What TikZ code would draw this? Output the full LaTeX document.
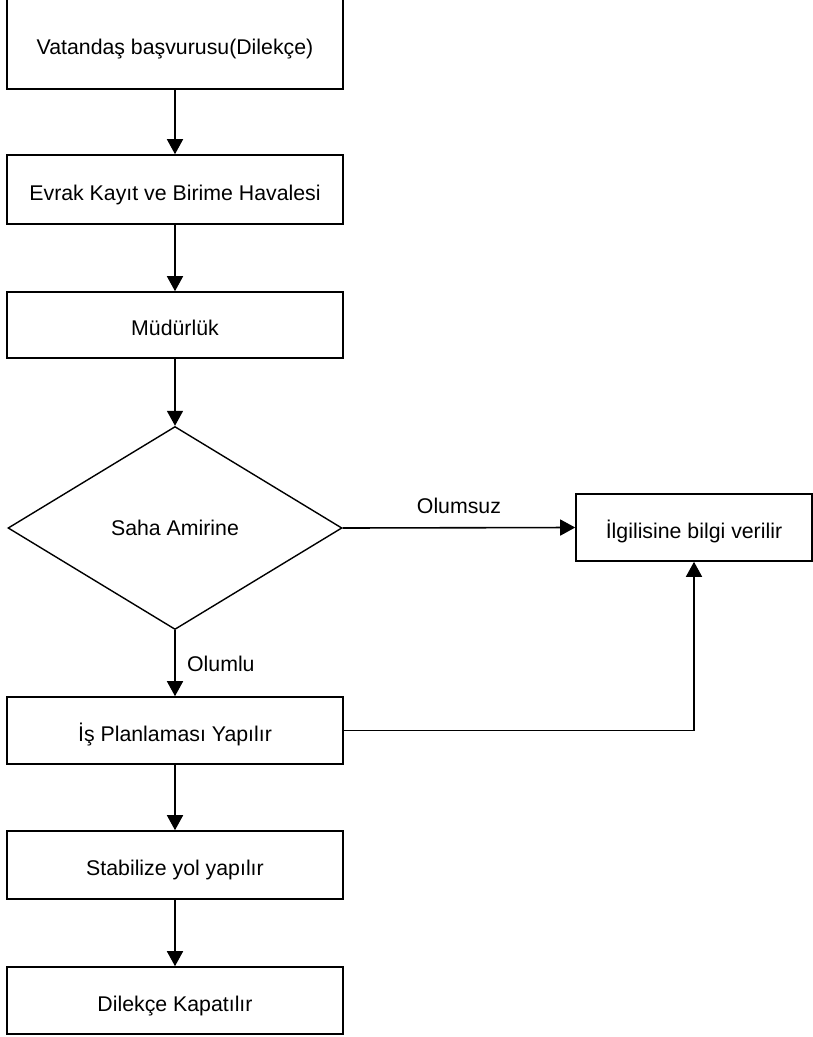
\documentclass[tikz,border=0pt]{standalone}
\usepackage{fontspec}
\setmainfont{Liberation Sans}
\usepackage{tikz}
\usetikzlibrary{arrows.meta,positioning,shapes.geometric}
\tikzset{
  stepbox/.style={draw,line width=1.6pt,rectangle,inner sep=0pt,
    text height=21pt,text depth=0pt,
    minimum width=336pt,minimum height=67pt},
  decision/.style={draw,line width=1.4pt,diamond,inner sep=0pt,
    minimum width=334pt,minimum height=203pt},
  every node/.style={font=\fontsize{21.3}{25}\selectfont}
}
\tikzstyle{arrow} = [line width=1.6pt,-{Triangle[width=16pt,length=15pt]}]

\begin{document}
\begin{tikzpicture}[x=1pt,y=-1pt,line cap=butt,line join=miter]
  % --- Window ---
  \useasboundingbox (0,0) rectangle (813,1037);

  % --- Main column ---
  \node[stepbox,minimum height=91pt] (basvuru) at (175,43.5) {Vatandaş başvurusu(Dilekçe)};
  \node[stepbox,minimum height=69pt] (kayit) at (175,189.5) {Evrak Kayıt ve Birime Havalesi};
  \node[stepbox,minimum height=66pt] (mudur) at (175,325) {Müdürlük};
  \node[decision] (saha) at (175,528) {Saha Amirine};
  \node[stepbox] (plan) at (175,730.5) {İş Planlaması Yapılır};
  \node[stepbox,minimum height=68pt] (yol) at (175,865) {Stabilize yol yapılır};
  \node[stepbox] (kapat) at (175,1000.5) {Dilekçe Kapatılır};

  % --- Side box ---
  \node[stepbox,minimum width=236pt] (bilgi) at (694,527.5) {İlgilisine bilgi verilir};

  % --- Connectors ---
  \draw[arrow] (basvuru) -- (kayit);
  \draw[arrow] (kayit) -- (mudur);
  \draw[arrow] (mudur) -- (saha.north);
  \draw[arrow] (saha.south) -- node[anchor=west,xshift=8pt,yshift=-1pt] {Olumlu} (plan);
  \draw[arrow] (saha.east) -- node[anchor=south,yshift=10pt] {Olumsuz} (bilgi.west);
  \draw[arrow] (plan.east) -| (bilgi.south);
  \draw[arrow] (plan) -- (yol);
  \draw[arrow] (yol) -- (kapat);

\end{tikzpicture}
\end{document}
